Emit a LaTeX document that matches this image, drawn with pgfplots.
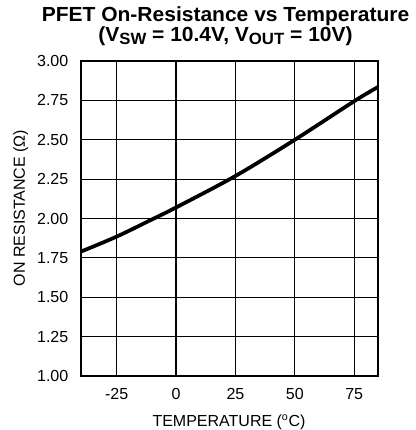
\documentclass[border=0pt]{standalone}
\usepackage{pgfplots}
\pgfplotsset{compat=1.18}
\usepackage{fontspec}
\setmainfont{Liberation Sans}
\newfontfamily\titlefont{Liberation Sans}[FakeStretch=1.03]
\begin{document}
\begin{tikzpicture}[x=0.75pt,y=0.75pt]
\path[use as bounding box] (0,0) rectangle (416,430);
\begin{axis}[
  at={(60.75pt,40.5pt)}, anchor=south west,
  width=222.75pt, height=236.25pt, scale only axis,
  xmin=-40, xmax=85, ymin=1, ymax=3,
  xtick={-25,0,25,50,75},
  ytick={1,1.25,1.5,1.75,2,2.25,2.5,2.75,3},
  yticklabel style={/pgf/number format/fixed,/pgf/number format/fixed zerofill,/pgf/number format/precision=2},
  /pgf/number format/assume math mode=true,
  ticklabel style={font=\fontsize{12}{14}\selectfont},
  major tick length=0pt,
  grid=major,
  major grid style={black, line width=0.85pt},
  axis line style={black, line width=1.2pt},
  xticklabel style={yshift=-6pt},
  yticklabel style={xshift=-6pt},
]
\addplot[black, line width=2.8pt, smooth] table {
x y
-40 1.790
-25 1.885
-10 1.995
0 2.070
25 2.270
50 2.500
75 2.745
85 2.835
};
\end{axis}
\node[anchor=base, inner sep=0pt, align=center, font=\titlefont\fontsize{15.3}{13.1}\selectfont\bfseries] at (225.5,388.5) {PFET On-Resistance vs Temperature\\(V\raisebox{-2pt}{\fontsize{12.2}{13}\selectfont SW} = 10.4V, V\raisebox{-2pt}{\fontsize{12.2}{13}\selectfont OUT} = 10V)};
\node[anchor=base, font=\fontsize{12}{14}\selectfont] at (229,3.3) {TEMPERATURE (\textsuperscript{o}C)};
\node[anchor=base, rotate=90, font=\fontsize{12}{14}\selectfont] at (25,222) {ON RESISTANCE (Ω)};
\end{tikzpicture}
\end{document}
